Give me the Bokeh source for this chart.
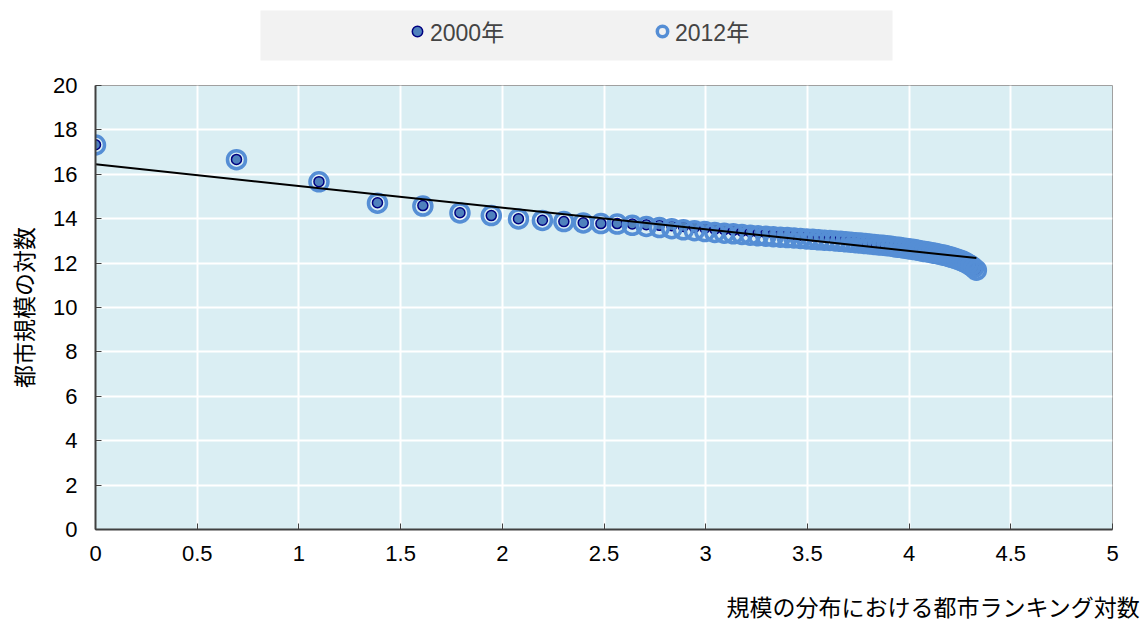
import numpy as np
from bokeh.plotting import figure
from bokeh.layouts import column
from bokeh.models import (Range1d, FixedTicker, NumeralTickFormatter, Legend,
                          LegendItem, Title, BoxAnnotation, ColumnDataSource)
from bokeh.embed import file_html
from bokeh.resources import INLINE

# City rank (1 = largest) and log city size for each year
ranks = list(range(1, 77))

size_2000 = [
    17.33, 16.67, 15.67, 14.72, 14.59, 14.27, 14.14, 14.00, 13.93, 13.87,
    13.82, 13.78, 13.78, 13.76, 13.73, 13.70, 13.68, 13.65, 13.61, 13.57,
    13.53, 13.50, 13.47, 13.44, 13.41, 13.38, 13.36, 13.34, 13.32, 13.30,
    13.28, 13.26, 13.24, 13.22, 13.20, 13.18, 13.16, 13.14, 13.12, 13.10,
    13.08, 13.06, 13.04, 13.02, 13.00, 12.98, 12.96, 12.94, 12.92, 12.90,
    12.87, 12.84, 12.81, 12.79, 12.76, 12.73, 12.70, 12.67, 12.64, 12.61,
    12.58, 12.54, 12.50, 12.46, 12.42, 12.38, 12.33, 12.28, 12.23, 12.18,
    12.12, 12.06, 11.98, 11.90, 11.80, 11.70,
]

size_2012 = [
    17.32, 16.66, 15.66, 14.70, 14.57, 14.26, 14.14, 13.99, 13.92, 13.87,
    13.81, 13.78, 13.76, 13.70, 13.65, 13.60, 13.55, 13.50, 13.46, 13.42,
    13.38, 13.35, 13.32, 13.29, 13.26, 13.23, 13.21, 13.19, 13.17, 13.15,
    13.13, 13.11, 13.09, 13.07, 13.05, 13.03, 13.02, 13.00, 12.98, 12.96,
    12.94, 12.92, 12.90, 12.88, 12.86, 12.84, 12.82, 12.80, 12.78, 12.76,
    12.73, 12.71, 12.68, 12.66, 12.63, 12.61, 12.58, 12.55, 12.52, 12.50,
    12.47, 12.44, 12.41, 12.38, 12.35, 12.31, 12.27, 12.23, 12.19, 12.14,
    12.09, 12.03, 11.96, 11.88, 11.79, 11.68,
]

series_names = ["2000年", "2012年"]

# Linear trend of log size on log rank
trend_intercept = 16.45
trend_slope = -0.975

x_ticks = [0, 0.5, 1, 1.5, 2, 2.5, 3, 3.5, 4, 4.5, 5]
y_ticks = [0, 2, 4, 6, 8, 10, 12, 14, 16, 18, 20]

x_title = "規模の分布における都市ランキング対数"
y_title = "都市規模の対数"

FONT = "'Liberation Sans', 'Noto Sans CJK JP', sans-serif"
W = 1148
LEFT, RIGHT = 95, 36          # shared side borders of all three rows

STYLE_2000 = dict(size=10, fill_color="#4F81BD", line_color="#000080", line_width=1.5)
STYLE_2012 = dict(size=18, fill_color=None, line_color="#558ED5", line_width=3.5)

log_rank = np.log(np.array(ranks, dtype=float))
src = ColumnDataSource(dict(x=log_rank, y00=size_2000, y12=size_2012))

trend_x = [0.0, float(log_rank.max())]
trend_y = [trend_intercept + trend_slope * v for v in trend_x]


def bare(height, x_range, y_range, **borders):
    f = figure(width=W, height=height, output_backend="svg", toolbar_location=None,
               x_range=x_range, y_range=y_range,
               x_axis_location=None, y_axis_location=None,
               min_border_left=LEFT, min_border_right=RIGHT, **borders)
    f.grid.visible = False
    f.outline_line_color = None
    f.border_fill_color = "white"
    f.background_fill_color = "white"
    return f


# ---- key row: grey band with the two series; ranges are in pixels ----
KEY_H = 70
key = bare(KEY_H, Range1d(LEFT, W - RIGHT), Range1d(KEY_H, 0),
           min_border_top=0, min_border_bottom=0)
key.add_layout(BoxAnnotation(left=260, right=892, top=10, bottom=60,
                             fill_color="#F2F2F2", fill_alpha=1.0,
                             line_color=None, level="underlay"))
# the key's own glyph renderers share the data but sit off its pixel range
k00 = key.scatter("x", "y00", source=src, **STYLE_2000)
k12 = key.scatter("x", "y12", source=src, **STYLE_2012)
key.add_layout(Legend(
    items=[LegendItem(label=series_names[0], renderers=[k00]),
           LegendItem(label=series_names[1], renderers=[k12])],
    orientation="horizontal", location=(404 - LEFT, 22), margin=0,
    padding=0, spacing=19, glyph_width=26, glyph_height=26,
    label_standoff=0, label_width=200, label_height=26,
    background_fill_alpha=0.0, border_line_color=None,
    label_text_font=FONT, label_text_font_size="23px",
))

# ---- main scatter ----
p = figure(width=W, height=505, output_backend="svg", toolbar_location=None,
           x_range=Range1d(x_ticks[0], x_ticks[-1]),
           y_range=Range1d(y_ticks[0], y_ticks[-1]),
           min_border_left=LEFT, min_border_right=RIGHT,
           min_border_top=15, min_border_bottom=46)

p.background_fill_color = "#DAEEF3"
p.border_fill_color = "white"
p.outline_line_color = "#A0A0A0"
p.outline_line_width = 1

for ax, ticks in ((p.xaxis[0], x_ticks), (p.yaxis[0], y_ticks)):
    ax.ticker = FixedTicker(ticks=ticks)
    ax.formatter = NumeralTickFormatter(format="0.[0]")
    ax.axis_line_color = "#404040"
    ax.axis_line_width = 2
    ax.major_tick_in = 6
    ax.major_tick_out = 0
    ax.major_tick_line_color = "#404040"
    ax.major_tick_line_width = 1
    ax.minor_tick_line_color = None
    ax.major_label_text_font = FONT
    ax.major_label_text_font_size = "22px"
    ax.major_label_text_color = "black"

p.xaxis.major_label_standoff = 16
p.yaxis.major_label_standoff = 18

yax = p.yaxis[0]
yax.axis_label = y_title
yax.axis_label_standoff = 12
yax.axis_label_text_font = FONT
yax.axis_label_text_font_size = "23px"
yax.axis_label_text_font_style = "normal"
yax.axis_label_text_color = "black"

p.xgrid.ticker = FixedTicker(ticks=x_ticks)
p.ygrid.ticker = FixedTicker(ticks=y_ticks)
for g in (p.xgrid[0], p.ygrid[0]):
    g.grid_line_color = "white"
    g.grid_line_width = 2

p.scatter("x", "y00", source=src, **STYLE_2000)
p.scatter("x", "y12", source=src, **STYLE_2012)
p.line(trend_x, trend_y, line_color="black", line_width=2)

# ---- x-axis title row, right-aligned past the plot's right edge ----
xt = bare(46, Range1d(0, 1), Range1d(0, 1), min_border_top=0, min_border_bottom=0)
xt.add_layout(Title(text=x_title, align="right", offset=-28, standoff=2,
                    vertical_align="bottom", text_font=FONT,
                    text_font_size="23px", text_font_style="normal",
                    text_color="black"), "below")

page = column(key, p, xt, spacing=0)
open("out.html", "w").write(file_html(page, INLINE))
